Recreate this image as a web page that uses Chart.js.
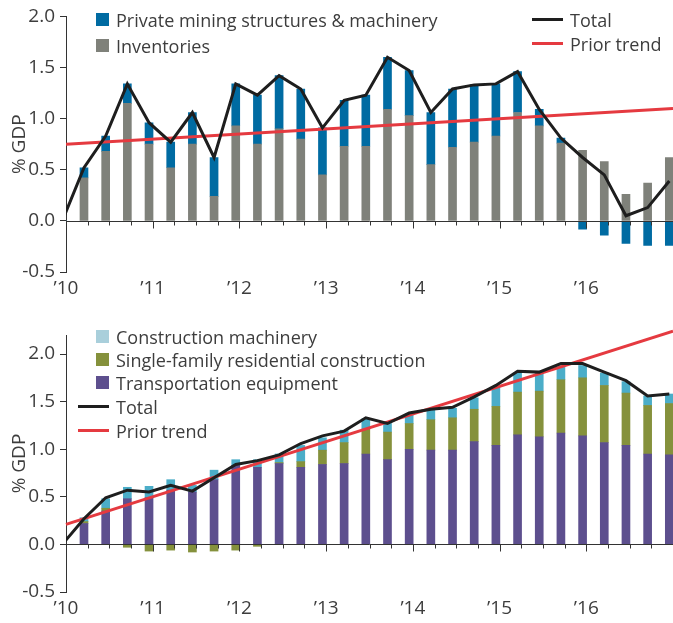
<!DOCTYPE html>
<html>
<head>
<meta charset="utf-8">
<script src="https://cdn.jsdelivr.net/npm/chart.js@4.4.0/dist/chart.umd.min.js"></script>
<style>
  html, body { margin: 0; padding: 0; background: #fff; }
  body { width: 673px; height: 623px; position: relative; overflow: hidden;
         font-family: "Open Sans", sans-serif; color: #3d3d3d; }
  .panel { position: absolute; left: 0; width: 673px; }
  #topPanel { top: 0; height: 300px; }
  #bottomPanel { top: 300px; height: 323px; }
  .item { position: absolute; height: 24px; line-height: 24px; font-size: 18px; white-space: nowrap; }
  .item i { position: absolute; display: block; }
  .item span { position: absolute; top: 0; }
</style>
</head>
<body>
<div class="panel" id="topPanel"><canvas id="topChart"></canvas></div>
<div class="panel" id="bottomPanel"><canvas id="bottomChart"></canvas></div>
<script>
// quarters 2010Q1 .. 2017Q1, each value belongs to the quarter
const quarters = ['2010Q1','2010Q2','2010Q3','2010Q4','2011Q1','2011Q2','2011Q3','2011Q4',
  '2012Q1','2012Q2','2012Q3','2012Q4','2013Q1','2013Q2','2013Q3','2013Q4',
  '2014Q1','2014Q2','2014Q3','2014Q4','2015Q1','2015Q2','2015Q3','2015Q4',
  '2016Q1','2016Q2','2016Q3','2016Q4','2017Q1'];
const yearLabels = ['\u201910', '\u201911', '\u201912', '\u201913', '\u201914', '\u201915', '\u201916'];

// top panel (% GDP)
const inventories = [0, 0.42, 0.68, 1.15, 0.75, 0.52, 0.75, 0.24, 0.93, 0.75, 0.90, 0.80, 0.45, 0.73,
  0.73, 1.09, 1.03, 0.55, 0.72, 0.77, 0.83, 1.06, 0.93, 0.76, 0.69, 0.58, 0.26, 0.37, 0.62];
const miningStructures = [0, 0.10, 0.15, 0.19, 0.21, 0.25, 0.31, 0.38, 0.41, 0.48, 0.52, 0.49, 0.46, 0.45,
  0.50, 0.51, 0.44, 0.51, 0.57, 0.56, 0.51, 0.40, 0.16, 0.05, -0.08, -0.14, -0.22, -0.24, -0.24];
const topTotal = [0, 0.52, 0.83, 1.34, 0.96, 0.77, 1.06, 0.62, 1.34, 1.23, 1.42, 1.29, 0.91, 1.18,
  1.23, 1.60, 1.47, 1.06, 1.29, 1.33, 1.34, 1.46, 1.09, 0.81, 0.62, 0.45, 0.05, 0.13, 0.39];
const topTrend = [0.75, 1.10]; // first and last quarter

// bottom panel (% GDP)
const transportation = [0, 0.22, 0.35, 0.48, 0.49, 0.57, 0.55, 0.68, 0.83, 0.81, 0.85, 0.81, 0.84, 0.85,
  0.95, 0.89, 1.00, 0.99, 0.99, 1.08, 1.04, 1.15, 1.13, 1.17, 1.14, 1.07, 1.04, 0.95, 0.94];
const singleFamily = [0, 0.02, 0.03, -0.03, -0.07, -0.06, -0.08, -0.07, -0.06, -0.02, 0.01, 0.06, 0.15, 0.22,
  0.26, 0.29, 0.27, 0.32, 0.34, 0.34, 0.41, 0.45, 0.48, 0.56, 0.61, 0.60, 0.55, 0.51, 0.54];
const constructionMachinery = [0, 0.04, 0.10, 0.12, 0.12, 0.11, 0.07, 0.10, 0.06, 0.08, 0.09, 0.17, 0.13, 0.13,
  0.11, 0.09, 0.10, 0.10, 0.10, 0.12, 0.20, 0.20, 0.19, 0.13, 0.13, 0.13, 0.12, 0.10, 0.10];
const bottomTotal = [0, 0.27, 0.49, 0.57, 0.55, 0.62, 0.56, 0.70, 0.84, 0.88, 0.94, 1.06, 1.14, 1.19,
  1.33, 1.27, 1.38, 1.42, 1.44, 1.55, 1.67, 1.82, 1.81, 1.90, 1.90, 1.81, 1.72, 1.56, 1.58];
const bottomTrend = [0.21, 2.24];

const C = {
  blue: '#006ba2', gray: '#7f817a', purple: '#5d4f8e', green: '#85913c',
  cyan: '#4badc8', cyanKey: '#a9cfdb', black: '#1e1e1e', red: '#e53a40', text: '#3d3d3d', axis: '#333'
};

Chart.defaults.font.family = '"Open Sans", sans-serif';
Chart.defaults.font.size = 19;
Chart.defaults.color = C.text;
Chart.defaults.animation = false;

// bars sit just left of the quarter tick
const SHIFT = 0.17;
const pts = arr => arr.map((v, i) => ({ x: i - SHIFT, y: v }));
const trendPts = arr => [{ x: 0, y: arr[0] }, { x: quarters.length - 1, y: arr[1] }];

// zero line with quarter tick marks hanging below it
const zeroAxis = {
  id: 'zeroAxis',
  afterDatasetsDraw(chart) {
    const { ctx, chartArea, scales: { x, y } } = chart;
    const y0 = Math.round(y.getPixelForValue(0)) + 0.5;
    ctx.save();
    ctx.strokeStyle = C.axis;
    ctx.lineWidth = 1;
    ctx.beginPath();
    ctx.moveTo(chartArea.left, y0);
    ctx.lineTo(chartArea.right, y0);
    for (let i = 0; i < quarters.length; i++) {
      const px = Math.round(x.getPixelForValue(i)) + 0.5;
      ctx.moveTo(px, y0);
      ctx.lineTo(px, y0 + (i % 4 === 0 ? 7 : 4));
    }
    ctx.stroke();
    ctx.restore();
  }
};

function makeChart(id, h, padTop, yMax, axisH, datasets) {
  const canvas = document.getElementById(id);
  canvas.width = 673; canvas.height = h;
  canvas.style.width = '673px'; canvas.style.height = h + 'px';
  return new Chart(canvas, {
    type: 'bar',
    data: { datasets },
    options: {
      responsive: false,
      layout: { padding: { top: padTop, right: 0, left: 0, bottom: 0 } },
      plugins: { legend: { display: false }, tooltip: { enabled: false } },
      scales: {
        x: {
          type: 'linear', min: 0, max: quarters.length - 1, offset: false, stacked: true,
          grid: { display: false, drawTicks: true, tickLength: 5, offset: false },
          border: { display: false },
          ticks: {
            stepSize: 4, autoSkip: false, maxRotation: 0, padding: 0,
            callback: v => (v % 4 === 0 && yearLabels[v / 4]) || ''
          },
          afterFit: s => { s.height = axisH; }
        },
        y: {
          min: -0.5, max: yMax, stacked: true,
          grid: { drawOnChartArea: false, drawTicks: true, tickLength: 6, tickColor: C.axis },
          border: { display: true, color: C.axis },
          ticks: { stepSize: 0.5, includeBounds: false, padding: 5, callback: v => v.toFixed(1) },
          title: { display: true, text: '% GDP', padding: { top: 8, bottom: 0 } },
          afterFit: s => { s.width = 66; }
        }
      }
    },
    plugins: [zeroAxis]
  });
}

const lineStyle = { type: 'line', pointRadius: 0, borderWidth: 3, tension: 0, fill: false };
const barStyle = { barThickness: 8 };

makeChart('topChart', 300, 16, 2.0, 28, [
  { ...lineStyle, label: 'Total', data: pts(topTotal), borderColor: C.black, stack: 'total' },
  { ...lineStyle, label: 'Prior trend', data: trendPts(topTrend), borderColor: C.red, stack: 'trend' },
  { ...barStyle, label: 'Inventories', data: pts(inventories), backgroundColor: C.gray },
  { ...barStyle, label: 'Private mining structures & machinery', data: pts(miningStructures), backgroundColor: C.blue }
]);

makeChart('bottomChart', 323, 35, 2.2, 31, [
  { ...lineStyle, label: 'Total', data: pts(bottomTotal), borderColor: C.black, stack: 'total' },
  { ...lineStyle, label: 'Prior trend', data: trendPts(bottomTrend), borderColor: C.red, stack: 'trend', clip: false },
  { ...barStyle, label: 'Transportation equipment', data: pts(transportation), backgroundColor: C.purple },
  { ...barStyle, label: 'Single-family residential construction', data: pts(singleFamily), backgroundColor: C.green },
  { ...barStyle, label: 'Construction machinery', data: pts(constructionMachinery), backgroundColor: C.cyan }
]);

// legends
function legendItem(panelId, text, color, kind, left, centerY) {
  const d = document.createElement('div');
  d.className = 'item';
  d.style.left = left + 'px';
  d.style.top = (centerY - 12) + 'px';
  const mark = document.createElement('i');
  mark.style.background = color;
  if (kind === 'box') {
    Object.assign(mark.style, { left: '0px', top: '5px', width: '13px', height: '13px' });
  } else {
    Object.assign(mark.style, { left: '0px', top: '10px', width: '31px', height: '3px' });
  }
  const span = document.createElement('span');
  span.textContent = text;
  span.style.left = (kind === 'box' ? 20 : 38) + 'px';
  d.appendChild(mark);
  d.appendChild(span);
  document.getElementById(panelId).appendChild(d);
}

legendItem('topPanel', 'Private mining structures & machinery', C.blue, 'box', 96, 19.5);
legendItem('topPanel', 'Inventories', C.gray, 'box', 96, 45.5);
legendItem('topPanel', 'Total', C.black, 'line', 532, 20);
legendItem('topPanel', 'Prior trend', C.red, 'line', 532, 43.5);

legendItem('bottomPanel', 'Construction machinery', C.cyanKey, 'box', 96, 37);
legendItem('bottomPanel', 'Single-family residential construction', C.green, 'box', 96, 60);
legendItem('bottomPanel', 'Transportation equipment', C.purple, 'box', 96, 82.5);
legendItem('bottomPanel', 'Total', C.black, 'line', 78, 107);
legendItem('bottomPanel', 'Prior trend', C.red, 'line', 78, 131);
</script>
</body>
</html>
